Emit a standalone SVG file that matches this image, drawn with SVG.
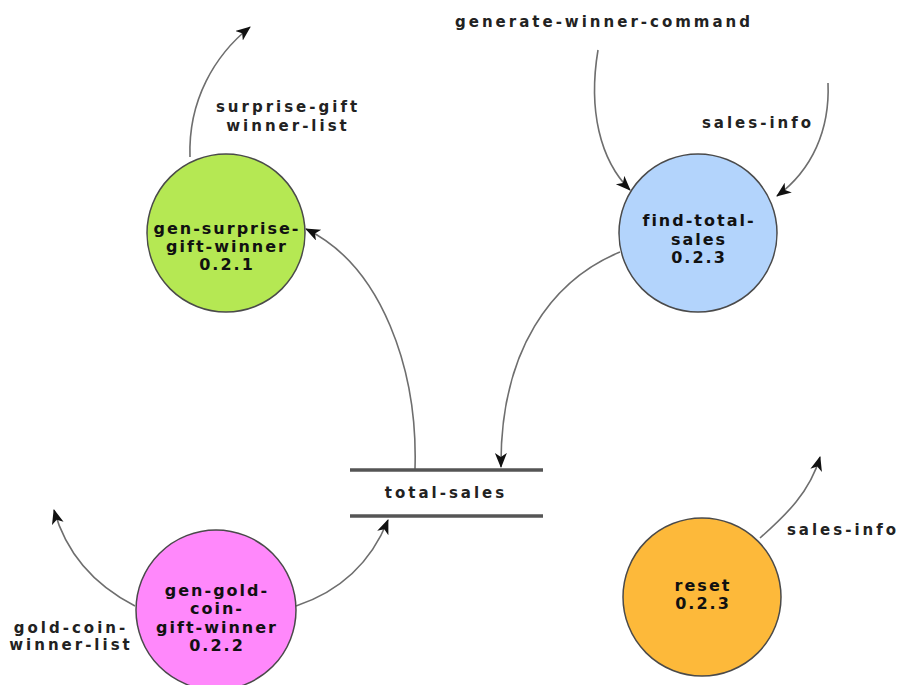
<svg xmlns="http://www.w3.org/2000/svg" width="904" height="685" viewBox="0 0 904 685">
<style>
.bg{fill:#ffffff}
.node circle{stroke:#4a4a4a;stroke-width:1.5}
.nt{font-family:"DejaVu Sans","Liberation Sans",sans-serif;font-weight:bold;font-size:16px;letter-spacing:2px;fill:#111;text-anchor:middle}
.lbl{font-family:"DejaVu Sans","Liberation Sans",sans-serif;font-weight:bold;font-size:15px;letter-spacing:3px;fill:#222;text-anchor:middle}
.flow{fill:none;stroke:#6e6e6e;stroke-width:1.6;marker-end:url(#ah)}
.store line{stroke:#555;stroke-width:3.5}
</style>
<defs>
<marker id="ah" markerUnits="userSpaceOnUse" markerWidth="16" markerHeight="14" refX="14" refY="6" orient="auto">
<path d="M0,0 L15,6 L0,12 L4,6 z" fill="#111"/>
</marker>
</defs>
<rect class="bg" x="0" y="0" width="904" height="685"/>

<g id="connectors">
<path class="flow" d="M190,157 C188,100 215,55 250,27"/>
<path class="flow" d="M415,469 C418,370 382,266 306,229"/>
<path class="flow" d="M598,50 C588,110 600,160 630,190"/>
<path class="flow" d="M828,83 C830,130 812,170 777,196"/>
<path class="flow" d="M620,252 C552,280 500,350 501,467"/>
<path class="flow" d="M296,606 C338,592 370,565 388,520"/>
<path class="flow" d="M135,606 C100,588 68,560 54,510"/>
<path class="flow" d="M760,538 C786,515 810,492 820,457"/>
</g>

<g id="labels">
<text class="lbl" x="604" y="27">generate-winner-command</text>
<text class="lbl" x="758" y="128">sales-info</text>
<text class="lbl" x="288" y="112">surprise-gift</text>
<text class="lbl" x="288" y="131">winner-list</text>
<text class="lbl" x="71" y="633">gold-coin-</text>
<text class="lbl" x="71" y="650">winner-list</text>
<text class="lbl" x="843" y="535">sales-info</text>
</g>

<g id="total-sales" class="store">
<line x1="350" y1="470" x2="543" y2="470"/>
<line x1="350" y1="516" x2="543" y2="516"/>
<text class="lbl" x="446" y="498">total-sales</text>
</g>

<g id="gen-surprise-gift-winner" class="node">
<circle cx="226" cy="233" r="79" fill="#b5e853"/>
<text class="nt" x="227" y="234">gen-surprise-</text>
<text class="nt" x="227" y="252">gift-winner</text>
<text class="nt" x="227" y="270">0.2.1</text>
</g>

<g id="find-total-sales" class="node">
<circle cx="698" cy="233" r="79" fill="#b3d4fc"/>
<text class="nt" x="699" y="226">find-total-</text>
<text class="nt" x="699" y="245">sales</text>
<text class="nt" x="699" y="263">0.2.3</text>
</g>

<g id="gen-gold-coin-gift-winner" class="node">
<circle cx="216" cy="610" r="80" fill="#ff88fb"/>
<text class="nt" x="217" y="596">gen-gold-</text>
<text class="nt" x="217" y="614">coin-</text>
<text class="nt" x="217" y="633">gift-winner</text>
<text class="nt" x="217" y="651">0.2.2</text>
</g>

<g id="reset" class="node">
<circle cx="702" cy="597" r="79" fill="#fdb93a"/>
<text class="nt" x="703" y="591">reset</text>
<text class="nt" x="703" y="609">0.2.3</text>
</g>
</svg>
